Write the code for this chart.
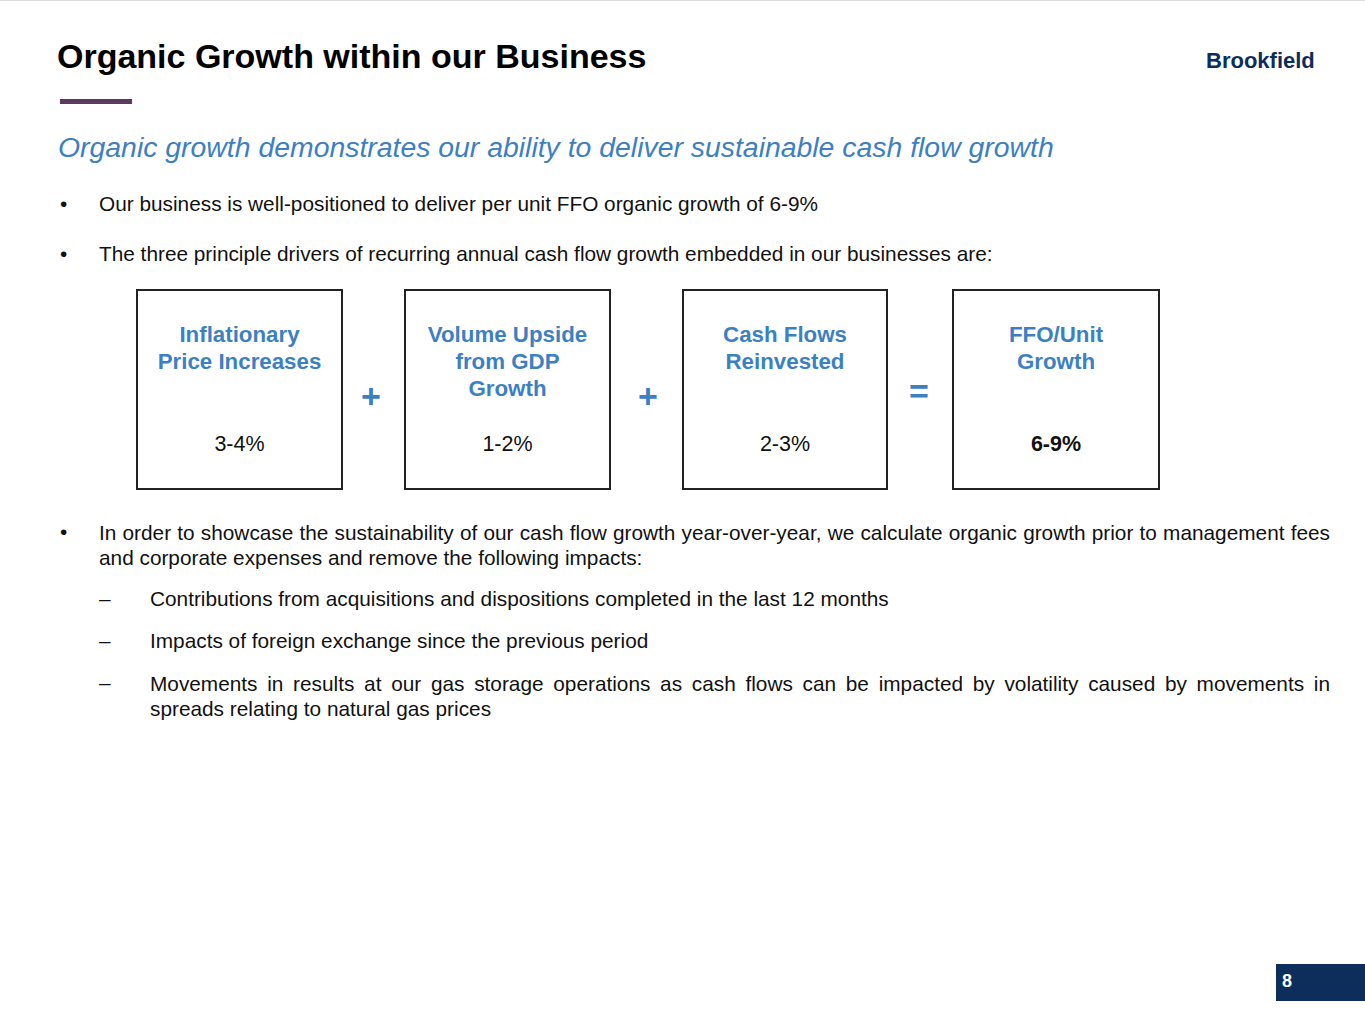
<!DOCTYPE html>
<html><head><meta charset="utf-8">
<script src="https://cdn.jsdelivr.net/npm/chart.js@4"></script>
<style>
body{margin:0;width:1365px;height:1016px;position:relative;font-family:"Liberation Sans",Arial,sans-serif;background:#fff;overflow:hidden;border-top:1px solid #ddd;box-sizing:border-box}
.a{position:absolute;white-space:nowrap}
.box{position:absolute;border:2px solid #222;box-sizing:border-box;text-align:center}
.bt{position:absolute;left:0;right:0;top:30px;color:#3c80c4;font-weight:bold;font-size:22.3px;line-height:27px}
.bv{position:absolute;left:0;right:0;top:141px;font-size:21.5px;color:#111}
.op{position:absolute;color:#3c80c4;font-weight:bold;font-size:34px}
.t{font-size:20.8px;color:#111}
</style></head><body>
<div class="a" style="left:57px;top:36px;font-size:34px;font-weight:bold;color:#000">Organic Growth within our Business</div>
<div class="a" style="left:1206px;top:47px;font-size:22px;font-weight:bold;color:#0d2d5a">Brookfield</div>
<div class="a" style="left:60px;top:98px;width:72px;height:5px;background:#5b3a5e"></div>
<div class="a" style="left:58px;top:130px;font-size:28.4px;font-style:italic;color:#3d7fc1">Organic growth demonstrates our ability to deliver sustainable cash flow growth</div>
<div class="a t" style="left:60px;top:191px">•</div>
<div class="a t" style="left:99px;top:191px">Our business is well-positioned to deliver per unit FFO organic growth of 6-9%</div>
<div class="a t" style="left:60px;top:241px">•</div>
<div class="a t" style="left:99px;top:241px">The three principle drivers of recurring annual cash flow growth embedded in our businesses are:</div>
<div id="boxes"></div>
<div class="a t" style="left:60px;top:519px">•</div>
<div class="a t" style="left:99px;top:519px;width:1231px;white-space:normal;text-align:justify;text-align-last:left;line-height:25px">In order to showcase the sustainability of our cash flow growth year-over-year, we calculate organic growth prior to management fees and corporate expenses and remove the following impacts:</div>
<div class="a t" style="left:99px;top:586px">–</div>
<div class="a t" style="left:150px;top:586px">Contributions from acquisitions and dispositions completed in the last 12 months</div>
<div class="a t" style="left:99px;top:628px">–</div>
<div class="a t" style="left:150px;top:628px">Impacts of foreign exchange since the previous period</div>
<div class="a t" style="left:99px;top:670px">–</div>
<div class="a t" style="left:150px;top:670px;width:1180px;white-space:normal;text-align:justify;line-height:25px">Movements in results at our gas storage operations as cash flows can be impacted by volatility caused by movements in spreads relating to natural gas prices</div>
<div class="a" style="left:1276px;top:963px;width:89px;height:37px;background:#0d2d5a"></div>
<div class="a" style="left:1282px;top:970px;font-size:18px;font-weight:bold;color:#fff">8</div>
<script>
const drivers = ["Inflationary<br>Price Increases","Volume Upside<br>from GDP<br>Growth","Cash Flows<br>Reinvested","FFO/Unit<br>Growth"];
const ranges = ["3-4%","1-2%","2-3%","6-9%"];
const operators = ["+","+","="];
const lefts=[136,404,682,952], widths=[207,207,206,208], opX=[361,638,909];
let h="";
drivers.forEach((d,i)=>{
  h+=`<div class="box" style="left:${lefts[i]}px;top:288px;width:${widths[i]}px;height:201px"><div class="bt">${d}</div><div class="bv" style="${i==3?'font-weight:bold':''}">${ranges[i]}</div></div>`;
});
operators.forEach((o,i)=>{h+=`<div class="op" style="left:${opX[i]}px;top:${o=='='?371:376}px">${o}</div>`});
document.getElementById('boxes').innerHTML=h;
</script>
</body></html>
